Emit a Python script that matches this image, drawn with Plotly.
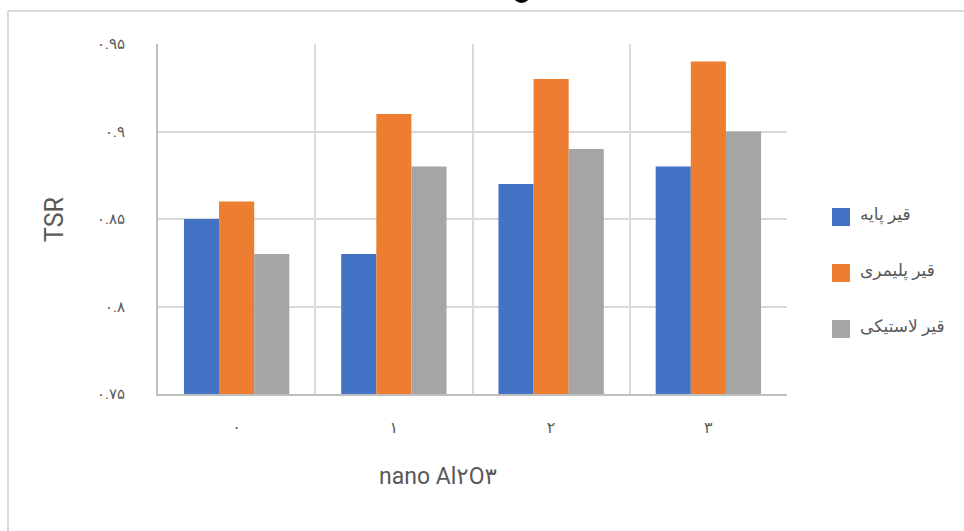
import plotly.graph_objects as go

# Nano Al2O3 content (Persian numerals) and TSR of each bitumen type
categories = ["۰", "۱", "۲", "۳"]
series_names = ["قیر پایه", "قیر پلیمری", "قیر لاستیکی"]
base_bitumen = [0.85, 0.83, 0.87, 0.88]
polymer_bitumen = [0.86, 0.91, 0.93, 0.94]
rubber_bitumen = [0.83, 0.88, 0.89, 0.90]
series_values = [base_bitumen, polymer_bitumen, rubber_bitumen]
colors = ["#4472C4", "#ED7D31", "#A5A5A5"]

y_tickvals = [0.75, 0.80, 0.85, 0.90, 0.95]
y_ticktext = ["۰.۷۵", "۰.۸", "۰.۸۵", "۰.۹", "۰.۹۵"]
x_title = "nano Al۲O۳"
y_title = "TSR"

W, H = 964, 531
ML, MR, MT, MB = 158, 177, 44, 137
PW, PH = W - ML - MR, H - MT - MB


def px(x):
    return (x - ML) / PW


def py(y):
    return (H - MB - y) / PH


TEXT = "#595959"
FONT = "Roboto, DejaVu Sans, sans-serif"

fig = go.Figure()
for name, vals, col in zip(series_names, series_values, colors):
    fig.add_trace(go.Bar(x=categories, y=vals, name=name,
                         marker=dict(color=col, line=dict(width=0)),
                         showlegend=False))

fig.update_layout(
    width=W, height=H,
    margin=dict(l=ML, r=MR, t=MT, b=MB),
    paper_bgcolor="white", plot_bgcolor="white",
    barmode="group", bargap=0.33, bargroupgap=0,
    font=dict(family=FONT, color=TEXT),
)
fig.update_xaxes(
    type="category", tickson="boundaries", showgrid=True,
    gridcolor="#D9D9D9", gridwidth=1.5,
    showline=True, linecolor="#BFBFBF", linewidth=2,
    ticks="", ticklabelstandoff=18,
    tickfont=dict(size=16, color=TEXT, family=FONT),
)
fig.update_yaxes(
    range=[0.75, 0.95], tickvals=y_tickvals, ticktext=y_ticktext,
    showgrid=True, gridcolor="#D9D9D9", gridwidth=1.5,
    showline=True, linecolor="#BFBFBF", linewidth=2,
    zeroline=False, ticks="", ticklabelstandoff=28,
    tickfont=dict(size=15, color=TEXT, family=FONT),
)

# outer chart frame (top and left edges visible)
frame = dict(type="line", xref="paper", yref="paper",
             line=dict(color="#D9D9D9", width=2), layer="below")
fig.add_shape(**frame, x0=px(8), y0=py(11), x1=px(W + 5), y1=py(11))
fig.add_shape(**frame, x0=px(8), y0=py(11), x1=px(8), y1=py(H + 5))

# lower edge of the chart title glyph above the frame
fig.add_shape(type="circle", xref="paper", yref="paper",
              x0=px(513), x1=px(530), y0=py(-14), y1=py(3),
              fillcolor="black", line=dict(width=0))

# axis titles
fig.add_annotation(text=y_title, xref="paper", yref="paper",
                   x=px(54), y=py(220), xanchor="center", yanchor="middle",
                   showarrow=False, textangle=-90,
                   font=dict(size=25, color=TEXT, family=FONT))
fig.add_annotation(text=x_title, xref="paper", yref="paper",
                   x=px(438), y=py(476), xanchor="center", yanchor="middle",
                   showarrow=False,
                   font=dict(size=23, color=TEXT, family=FONT))

# legend: colour squares with labels
for i, (name, col) in enumerate(zip(series_names, colors)):
    cy = 217 + i * 56
    fig.add_shape(type="rect", xref="paper", yref="paper",
                  x0=px(832), x1=px(850), y0=py(cy - 9), y1=py(cy + 9),
                  fillcolor=col, line=dict(width=0))
    fig.add_annotation(text=name, xref="paper", yref="paper",
                       x=px(858), y=py(cy - 3), xanchor="left", yanchor="middle",
                       showarrow=False,
                       font=dict(size=17, color=TEXT, family=FONT))

fig.write_html("out.html")
